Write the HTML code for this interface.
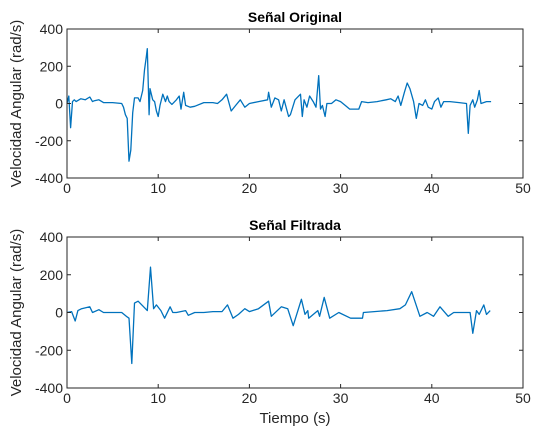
<!DOCTYPE html>
<html><head><meta charset="utf-8">
<style>
body{margin:0;background:#fff;}
svg{display:block;font-family:"Liberation Sans",sans-serif;}
</style></head>
<body>
<svg id="chart" width="544" height="430"></svg>
<script>
const xTicks=[0,10,20,30,40,50];
const yTicks=[-400,-200,0,200,400];
const origT=[0,0.2,0.4,0.6,0.8,1,1.5,2,2.5,2.8,3,3.5,4,5,6,6.2,6.4,6.6,6.8,7,7.2,7.4,7.8,8,8.3,8.5,8.7,8.8,9,9.1,9.4,9.6,9.8,10,10.2,10.5,10.8,11,11.2,11.5,12,12.3,12.5,12.8,13,13.5,14,15,16,16.5,17,17.5,18,18.5,19,19.5,20,21,22,22.1,22.4,22.8,23.2,23.5,23.8,24.3,24.5,25,25.6,25.8,26,26.3,26.6,27,27.3,27.6,27.8,28,28.3,28.5,29,29.5,30,30.5,31,32,32.3,33,34,35,35.5,36,36.3,36.6,37,37.3,37.6,38,38.3,38.6,39,39.3,39.6,40,40.3,40.7,41,41.3,42,43,43.8,44,44.2,44.5,44.7,45,45.2,45.4,46,46.5];
const origV=[0,40,-130,10,20,10,25,20,35,10,15,20,5,5,0,-20,-60,-80,-310,-250,-50,30,30,10,70,180,250,295,-60,80,20,10,-40,-70,-10,50,10,40,10,-5,20,40,-30,60,-10,-20,-15,5,5,0,20,50,-40,-10,20,-20,0,10,20,60,-20,30,20,-40,20,-70,-60,20,50,-70,20,-20,40,10,-20,150,-30,-10,-70,0,0,20,10,-10,-30,-30,10,5,10,20,25,10,40,-10,60,110,80,10,-80,0,-10,20,-20,-30,10,30,-20,10,10,5,0,-160,-10,20,-20,20,70,0,10,10];
const filtT=[0,0.5,0.9,1.2,1.6,2.5,2.8,3.5,4,5,6,6.5,6.8,7.1,7.4,7.8,8.2,8.8,9.16,9.5,9.8,10.3,10.7,11.3,11.6,12,13,13.3,14,15,16,17,17.6,18.2,18.8,19.5,20,21,22.1,22.4,23.5,24.2,24.8,25.7,26.1,26.4,26.5,27.5,27.7,28.2,28.8,29.8,31.1,32.4,32.5,35.1,36.5,37.1,37.8,38.7,39.5,40.2,40.9,41.8,42.4,44.2,44.5,44.9,45.2,45.7,46,46.4];
const filtV=[0,5,-45,10,20,30,0,15,0,0,0,-20,-30,-270,50,60,40,10,240,20,40,10,-30,30,0,0,10,-15,0,0,5,5,40,-30,-10,20,5,20,60,-20,30,20,-70,70,-10,10,-30,10,-20,80,-30,0,-30,-30,0,10,20,40,110,-20,0,-20,30,-20,0,0,-110,10,-10,40,-10,10];

const svg=document.getElementById('chart');
const NS='http://www.w3.org/2000/svg';
function mk(tag,attrs,parent){const e=document.createElementNS(NS,tag);for(const k in attrs)e.setAttribute(k,attrs[k]);(parent||svg).appendChild(e);return e;}

function panel(y0,y1,title,T,V,key){
  const x0=67,x1=523;
  const sx=t=>x0+(t-0)/(50-0)*(x1-x0);
  const sy=v=>y1-(v+400)/800*(y1-y0);
  const g=mk('g',{});
  
  
  mk('rect',{x:x0,y:y0,width:x1-x0,height:y1-y0,fill:'#fff'},g);
  let d='';
  for(let i=0;i<T.length;i++)d+=(i?'L':'M')+sx(T[i]).toFixed(1)+' '+sy(V[i]).toFixed(1);
  const line=mk('path',{d:d,fill:'none',stroke:'#0072BD','stroke-width':1.3,'stroke-linejoin':'round'},g);
  
  
  const box=mk('rect',{x:x0,y:y0,width:x1-x0,height:y1-y0,fill:'none',stroke:'#262626','stroke-width':1},g);
  
  
  xTicks.forEach(t=>{
    const x=sx(t);
    mk('line',{x1:x,x2:x,y1:y1,y2:y1-4,stroke:'#262626'},g);
    mk('line',{x1:x,x2:x,y1:y0,y2:y0+4,stroke:'#262626'},g);
    const tx=mk('text',{x:x,y:y1+15,'text-anchor':'middle','font-size':14,fill:'#262626'},g);
    tx.textContent=t;
    
    
  });
  yTicks.forEach(v=>{
    const y=sy(v);
    mk('line',{x1:x0,x2:x0+4,y1:y,y2:y,stroke:'#262626'},g);
    mk('line',{x1:x1,x2:x1-4,y1:y,y2:y,stroke:'#262626'},g);
    const tx=mk('text',{x:x0-4,y:y+5,'text-anchor':'end','font-size':14,fill:'#262626'},g);
    tx.textContent=v;
    
    
  });
  const tt=mk('text',{x:(x0+x1)/2,y:y0-7,'text-anchor':'middle','font-size':14,'font-weight':'bold',fill:'#000'},g);
  tt.textContent=title;
  
  
  const yl=mk('text',{x:0,y:0,'text-anchor':'middle','font-size':15,fill:'#262626',transform:'translate(21,'+((y0+y1)/2)+') rotate(-90)'},g);
  yl.textContent='Velocidad Angular (rad/s)';
  
  
}
panel(29,178,'Señal Original',origT,origV,'original');
panel(237,388,'Señal Filtrada',filtT,filtV,'filtered');
const xl=mk('text',{x:295,y:423,'text-anchor':'middle','font-size':15,fill:'#262626'});
xl.textContent='Tiempo (s)';


</script>
</body></html>
